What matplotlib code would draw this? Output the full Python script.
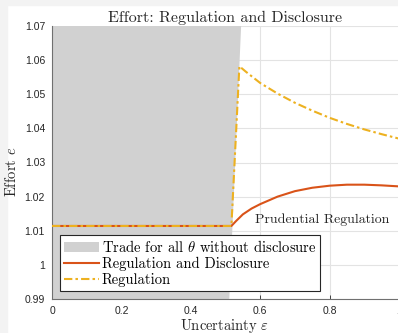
import matplotlib
matplotlib.use('Agg')
import matplotlib.pyplot as plt
from matplotlib.patches import Rectangle

plt.rcParams.update({
    'mathtext.fontset': 'cm',
    'axes.unicode_minus': False,
})

# --------------------------------------------------------------------------
# Data
# --------------------------------------------------------------------------
# region where trade happens for all theta without disclosure
trade_x = [0.0, 0.511, 0.545, 0.0]
trade_y = [0.99, 0.99, 1.07, 1.07]

# effort under regulation and disclosure
rd_x = [0.0, 0.517, 0.53, 0.55, 0.575, 0.6, 0.65, 0.7, 0.75, 0.8, 0.85, 0.9, 0.95, 1.0]
rd_y = [1.0114, 1.0114, 1.0128, 1.0148, 1.0165, 1.0178, 1.0200, 1.0216, 1.0226,
        1.0232, 1.0235, 1.0235, 1.0233, 1.0230]

# effort under regulation only
reg_x = [0.0, 0.517, 0.540, 0.56, 0.6, 0.65, 0.7, 0.75, 0.8, 0.85, 0.9, 0.95, 1.0]
reg_y = [1.0114, 1.0114, 1.0582, 1.0565, 1.0533, 1.0502, 1.0475, 1.0452, 1.0431,
         1.0413, 1.0397, 1.0383, 1.0370]

xticks = [0, 0.2, 0.4, 0.6, 0.8, 1]
xtick_labels = ['0', '0.2', '0.4', '0.6', '0.8', '1']
yticks = [0.99, 1.0, 1.01, 1.02, 1.03, 1.04, 1.05, 1.06, 1.07]
ytick_labels = ['0.99', '1', '1.01', '1.02', '1.03', '1.04', '1.05', '1.06', '1.07']

C_RD = '#D95319'
C_REG = '#EDB120'
C_GRAY = '#d1d1d1'
C_TXT = '#262626'
SERIF = 'cmr10'

fig = plt.figure(figsize=(3.98, 3.33), dpi=100)
# light strip at the left and top edges
fig.patches.append(Rectangle((0, 0), 7 / 398, 1, transform=fig.transFigure,
                             color='#f3f3f3', zorder=-1))
fig.patches.append(Rectangle((0, 1 - 5 / 333), 1, 5 / 333, transform=fig.transFigure,
                             color='#f3f3f3', zorder=-1))

ax = fig.add_axes([52 / 398, 1 - 299 / 333, 347 / 398, 273 / 333])

ax.fill(trade_x, trade_y, color=C_GRAY, lw=0, zorder=2,
        label=r'Trade for all $\theta$ without disclosure')
ax.plot(rd_x, rd_y, '-', color=C_RD, lw=1.5, zorder=3, label='Regulation and Disclosure')
ax.plot(reg_x, reg_y, '-.', color=C_REG, lw=1.5, zorder=4, label='Regulation',
        dashes=(4, 1.5, 1.2, 1.5))

ax.text(0.585, 1.0132, 'Prudential Regulation', fontfamily=SERIF, fontsize=10,
        va='center', ha='left', color=C_TXT)

ax.set_xlim(0, 1)
ax.set_ylim(0.99, 1.07)
ax.set_xticks(xticks)
ax.set_xticklabels(xtick_labels)
ax.set_yticks(yticks)
ax.set_yticklabels(ytick_labels)
ax.tick_params(direction='in', length=3, width=0.6, labelsize=7.5,
               colors=C_TXT, pad=5)
for lbl in ax.get_xticklabels() + ax.get_yticklabels():
    lbl.set_fontfamily('Liberation Sans')
ax.grid(True, color='#e3e3e3', lw=0.8, zorder=1)
ax.set_axisbelow(True)

for side in ('top', 'right'):
    ax.spines[side].set_visible(False)
for side in ('left', 'bottom'):
    ax.spines[side].set_color('#707070')
    ax.spines[side].set_linewidth(0.8)

ax.set_title('Effort: Regulation and Disclosure', fontfamily=SERIF, fontsize=11.5,
             color=C_TXT, pad=3)
ax.set_xlabel(r'Uncertainty $\varepsilon$', fontfamily=SERIF, fontsize=10.5,
              color=C_TXT)
ax.set_ylabel(r'Effort $e$', fontfamily=SERIF, fontsize=10.5, color=C_TXT)
ax.xaxis.set_label_coords(0.4986, -0.066)
ax.yaxis.set_label_coords(-0.094, 0.465)

leg = ax.legend(loc='lower left', bbox_to_anchor=(0.023, 0.029), borderaxespad=0,
                prop={'family': SERIF, 'size': 10.5}, fancybox=False,
                framealpha=1, edgecolor=C_TXT, handlelength=2.4,
                handletextpad=0.2, labelspacing=0.15, borderpad=0.25)
leg.get_frame().set_linewidth(0.8)
leg.set_zorder(10)

fig.savefig('out.png', dpi=100)
